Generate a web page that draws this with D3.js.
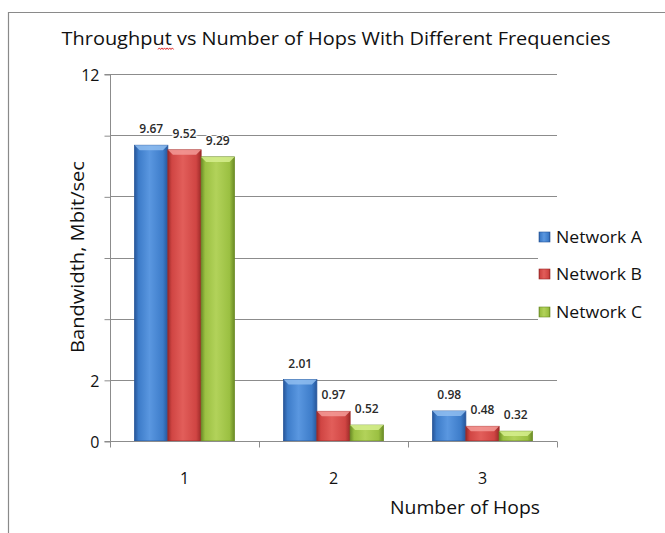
<!DOCTYPE html>
<html>
<head>
<meta charset="utf-8">
<script src="https://cdn.jsdelivr.net/npm/d3@7/dist/d3.min.js"></script>
<style>
  html, body { margin: 0; padding: 0; background: #fff; }
  svg { display: block; font-family: "Open Sans", "Noto Sans", sans-serif; }
</style>
</head>
<body>
<div id="chart"></div>
<script>
// data
const hops = ["1", "2", "3"];
const seriesNames = ["Network A", "Network B", "Network C"];
const networkA = [9.67, 2.01, 0.98];
const networkB = [9.52, 0.97, 0.48];
const networkC = [9.29, 0.52, 0.32];
const yGridValues = [0, 2, 4, 6, 8, 10, 12];
const yTickLabels = ["0", "2", "", "", "", "", "12"]; // only these show in the original
const titleText = "Throughput vs Number of Hops With Different Frequencies";

const W = 665, H = 533;
const margin = { left: 110, right: 108, top: 74, bottom: 92 };

// base, dark edge, light centre, top bevel
const palette = [
  { base: "#3d7cc9", dark: "#27569a", light: "#5a97e0", top: "#8fbdf0" },
  { base: "#d04543", dark: "#9c2a28", light: "#e25e5a", top: "#f39a96" },
  { base: "#9bc042", dark: "#6b8c26", light: "#b2d25a", top: "#d6ee8e" }
];

const svg = d3.select("#chart").append("svg")
  .attr("width", W).attr("height", H);

const defs = svg.append("defs");
palette.forEach((c, i) => {
  const g = defs.append("linearGradient").attr("id", "bar-grad-" + i)
    .attr("x1", "0%").attr("x2", "100%").attr("y1", "0%").attr("y2", "0%");
  g.append("stop").attr("offset", "0%").attr("stop-color", c.dark);
  g.append("stop").attr("offset", "12%").attr("stop-color", c.base);
  g.append("stop").attr("offset", "45%").attr("stop-color", c.light);
  g.append("stop").attr("offset", "85%").attr("stop-color", c.base);
  g.append("stop").attr("offset", "100%").attr("stop-color", c.dark);
});

// outer chart frame (left and top edges visible)
svg.append("path")
  .attr("d", `M8.5,${H} V12.5 H${W}`)
  .attr("fill", "none").attr("stroke", "#8a8a8a").attr("stroke-width", 1.2);

// title
svg.append("text")
  .attr("x", 336).attr("y", 45)
  .attr("text-anchor", "middle")
  .attr("font-size", 19)
  .attr("textLength", 549).attr("lengthAdjust", "spacingAndGlyphs")
  .attr("fill", "#111")
  .text(titleText);
// spell-check squiggle under "vs"
svg.append("path")
  .attr("d", "M158,49.5 l1.3,-1.6 l1.3,1.6 l1.3,-1.6 l1.3,1.6 l1.3,-1.6 l1.3,1.6 l1.3,-1.6 l1.3,1.6 l1.3,-1.6 l1.3,1.6 l1.3,-1.6 l1.3,1.6")
  .attr("fill", "none").attr("stroke", "#e03030").attr("stroke-width", 1);

const x0 = d3.scaleBand()
  .domain(hops)
  .range([margin.left, W - margin.right])
  .paddingInner(0.33).paddingOuter(0.165);
const x1 = d3.scaleBand()
  .domain(seriesNames)
  .range([0, x0.bandwidth()]);
const y = d3.scaleLinear()
  .domain([0, 12])
  .range([H - margin.bottom, margin.top]);

const plotRight = W - margin.right;

// gridlines
svg.append("g").selectAll("line")
  .data(yGridValues.filter(v => v > 0))
  .join("line")
  .attr("x1", margin.left).attr("x2", plotRight)
  .attr("y1", d => Math.round(y(d)) + 0.5).attr("y2", d => Math.round(y(d)) + 0.5)
  .attr("stroke", "#8c8c8c").attr("stroke-width", 1);

// y axis
const yAxis = d3.axisLeft(y)
  .tickValues(yGridValues)
  .tickSize(6)
  .tickFormat((d, i) => yTickLabels[i]);
const gy = svg.append("g")
  .attr("transform", `translate(${margin.left + 0.5},0.5)`)
  .call(yAxis);
gy.select(".domain").attr("stroke", "#8c8c8c").attr("d", `M-6,${y(12)} H0 V${y(0)} H-6`);
gy.selectAll(".tick line").attr("stroke", "#8c8c8c");
gy.selectAll(".tick text")
  .attr("x", -11).attr("dy", "0.36em")
  .attr("font-size", 16).attr("fill", "#111")
  .attr("font-family", "'Open Sans', sans-serif");

// bars
const seriesData = [networkA, networkB, networkC];
const groups = svg.append("g").selectAll("g")
  .data(hops)
  .join("g")
  .attr("transform", d => `translate(${x0(d)},0)`);

groups.each(function (h, hi) {
  const g = d3.select(this);
  seriesNames.forEach((name, si) => {
    const v = seriesData[si][hi];
    const bx = x1(name), bw = x1.bandwidth();
    const top = y(v), bottom = y(0);
    const c = palette[si];
    g.append("rect")
      .attr("x", bx).attr("y", top)
      .attr("width", bw).attr("height", bottom - top)
      .attr("fill", `url(#bar-grad-${si})`)
      .attr("stroke", c.dark).attr("stroke-width", 0.8);
    // top bevel
    const bev = Math.min(5, (bottom - top) / 2);
    g.append("path")
      .attr("d", `M${bx},${top} H${bx + bw} L${bx + bw - 5},${top + bev} H${bx + 5} Z`)
      .attr("fill", c.top).attr("opacity", 0.85);
    // data label
    g.append("text")
      .attr("x", bx + bw / 2).attr("y", top - 12)
      .attr("text-anchor", "middle")
      .attr("font-size", 12).attr("font-weight", 600)
      .attr("fill", "#2a2a2a")
      .attr("stroke", "#ffffff").attr("stroke-width", 2.5)
      .attr("paint-order", "stroke")
      .text(v.toFixed(2));
  });
});

// x axis baseline and ticks
const gx = svg.append("g").attr("transform", `translate(0,${Math.round(y(0)) + 0.5})`);
gx.append("line")
  .attr("x1", margin.left).attr("x2", plotRight)
  .attr("stroke", "#8c8c8c");
const boundaries = [margin.left].concat(hops.map(h => x0(h) + x0.bandwidth() + x0.step() * 0.165));
gx.selectAll("line.tk")
  .data(boundaries)
  .join("line").attr("class", "tk")
  .attr("x1", d => Math.round(d) + 0.5).attr("x2", d => Math.round(d) + 0.5)
  .attr("y1", 0).attr("y2", 6)
  .attr("stroke", "#8c8c8c");
gx.selectAll("text")
  .data(hops)
  .join("text")
  .attr("x", d => x0(d) + x0.bandwidth() / 2)
  .attr("y", 42)
  .attr("text-anchor", "middle")
  .attr("font-size", 16).attr("fill", "#111")
  .text(d => d);

// axis titles
svg.append("text")
  .attr("x", 465).attr("y", 514)
  .attr("text-anchor", "middle")
  .attr("font-size", 17.5).attr("fill", "#111")
  .attr("textLength", 150).attr("lengthAdjust", "spacingAndGlyphs")
  .text("Number of Hops");
svg.append("text")
  .attr("transform", "translate(84,257) rotate(-90)")
  .attr("text-anchor", "middle")
  .attr("font-size", 17.5).attr("fill", "#111")
  .attr("textLength", 192).attr("lengthAdjust", "spacingAndGlyphs")
  .text("Bandwidth, Mbit/sec");

// legend
const legend = svg.append("g").attr("transform", "translate(536,0)");
legend.append("rect")
  .attr("x", 2).attr("y", 222).attr("width", 125).attr("height", 104)
  .attr("fill", "#fff");
const legendY = [237, 274, 312];
seriesNames.forEach((name, i) => {
  const c = palette[i];
  legend.append("rect")
    .attr("x", 3).attr("y", legendY[i] - 5)
    .attr("width", 11).attr("height", 10)
    .attr("fill", `url(#bar-grad-${i})`)
    .attr("stroke", c.dark).attr("stroke-width", 0.6);
  legend.append("text")
    .attr("x", 20).attr("y", legendY[i])
    .attr("dy", "0.35em")
    .attr("font-size", 16).attr("fill", "#111")
    .attr("textLength", 86).attr("lengthAdjust", "spacingAndGlyphs")
    .text(name);
});
</script>
</body>
</html>
